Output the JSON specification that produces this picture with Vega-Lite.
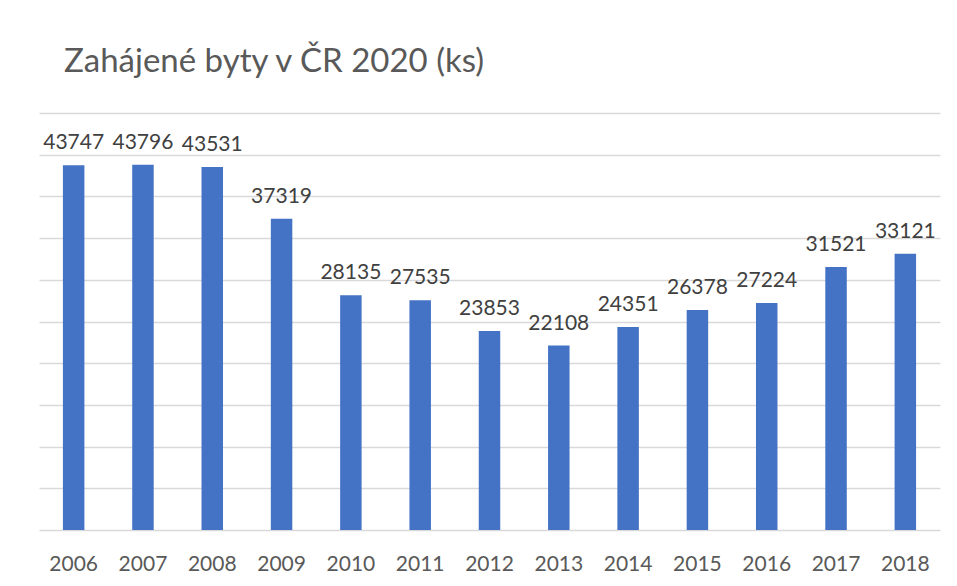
{
  "$schema": "https://vega.github.io/schema/vega-lite/v6.json",
  "autosize": "none",
  "width": 901,
  "height": 417,
  "padding": {"left": 39, "top": 113, "right": 17, "bottom": 56},
  "background": "white",
  "title": {
    "text": "Zahájené byty v ČR 2020 (ks)",
    "anchor": "start",
    "frame": "group",
    "dx": 25,
    "offset": 8,
    "baseline": "alphabetic",
    "font": "Lato",
    "fontSize": 33,
    "fontWeight": "normal",
    "color": "#595959"
  },
  "data": {
    "values": [
      {"rok": "2006", "byty": 43747},
      {"rok": "2007", "byty": 43796},
      {"rok": "2008", "byty": 43531},
      {"rok": "2009", "byty": 37319},
      {"rok": "2010", "byty": 28135},
      {"rok": "2011", "byty": 27535},
      {"rok": "2012", "byty": 23853},
      {"rok": "2013", "byty": 22108},
      {"rok": "2014", "byty": 24351},
      {"rok": "2015", "byty": 26378},
      {"rok": "2016", "byty": 27224},
      {"rok": "2017", "byty": 31521},
      {"rok": "2018", "byty": 33121}
    ]
  },
  "config": {"view": {"stroke": null}},
  "encoding": {
    "x": {
      "field": "rok",
      "type": "ordinal",
      "scale": {"paddingInner": 0.69, "paddingOuter": 0.345},
      "axis": {
        "title": null,
        "labelAngle": 0,
        "labelFont": "Lato",
        "labelFontSize": 21,
        "labelColor": "#595959",
        "labelPadding": 23,
        "ticks": false,
        "domain": false
      }
    },
    "y": {
      "field": "byty",
      "type": "quantitative",
      "scale": {"domain": [0, 50000], "nice": false},
      "axis": {
        "title": null,
        "labels": false,
        "ticks": false,
        "domain": false,
        "values": [0, 5000, 10000, 15000, 20000, 25000, 30000, 35000, 40000, 45000, 50000],
        "gridColor": "#d9d9d9",
        "gridWidth": 1.6
      }
    }
  },
  "layer": [
    {"mark": {"type": "bar", "color": "#4472C4"}},
    {
      "mark": {
        "type": "text",
        "baseline": "alphabetic",
        "dy": -16,
        "font": "Lato",
        "fontSize": 21,
        "color": "#404040"
      },
      "encoding": {"text": {"field": "byty", "type": "quantitative", "format": "d"}}
    }
  ]
}
